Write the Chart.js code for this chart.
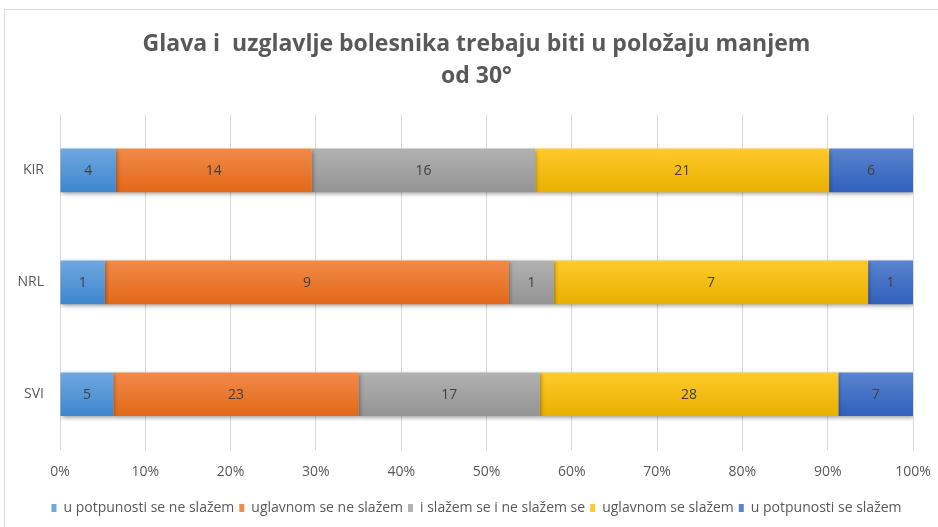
<!DOCTYPE html>
<html>
<head>
<meta charset="utf-8">
<script src="https://cdn.jsdelivr.net/npm/chart.js@4.4.1/dist/chart.umd.min.js"></script>
<style>
  html, body { margin: 0; padding: 0; background: #fff; }
  #wrap { position: relative; width: 938px; height: 527px; }
  #frame { position: absolute; left: 4px; top: 9px; width: 960px; height: 540px; border: 1px solid #d9d9d9; box-sizing: border-box; }
  canvas { position: absolute; left: 0; top: 0; }
</style>
</head>
<body>
<div id="wrap">
  <div id="frame"></div>
  <canvas id="chart" width="938" height="527"></canvas>
</div>
<script>
// Categories and answer counts
const groups = ["KIR", "NRL", "SVI"];
const answers = [
  "u potpunosti se ne slažem",
  "uglavnom se ne slažem",
  "i slažem se i ne slažem se",
  "uglavnom se slažem",
  "u potpunosti se slažem",
];
const fullyDisagree = [4, 1, 5];
const mostlyDisagree = [14, 9, 23];
const neutral = [16, 1, 17];
const mostlyAgree = [21, 7, 28];
const fullyAgree = [6, 1, 7];
const xTicks = [0, 10, 20, 30, 40, 50, 60, 70, 80, 90, 100];

const counts = [fullyDisagree, mostlyDisagree, neutral, mostlyAgree, fullyAgree];
const colors = [
  ["#6ea8df", "#3f86cf"],
  ["#f28a4a", "#e26818"],
  ["#b2b2b2", "#939393"],
  ["#ffca2c", "#e8b000"],
  ["#5a84cf", "#3060bd"],
];

const totals = groups.map((g, i) => counts.reduce((s, arr) => s + arr[i], 0));

const FONT = "'Open Sans', Calibri, sans-serif";

// vertical gradient per bar, like the Excel fill
function barFill(ci) {
  return function (context) {
    const chart = context.chart;
    const area = chart.chartArea;
    if (!area) return colors[ci][0];
    const y = chart.scales.y.getPixelForValue(context.dataIndex);
    const g = chart.ctx.createLinearGradient(0, y - 22, 0, y + 22);
    g.addColorStop(0, colors[ci][0]);
    g.addColorStop(1, colors[ci][1]);
    return g;
  };
}

const datasets = answers.map((label, ci) => ({
  label: label,
  data: counts[ci].map((v, i) => (v / totals[i]) * 100),
  raw: counts[ci],
  backgroundColor: barFill(ci),
  legendColor: colors[ci][0],
  borderWidth: 0,
  barPercentage: 0.39,
  categoryPercentage: 1,
}));

// soft shadow under the bars
const shadowPlugin = {
  id: "barShadow",
  beforeDatasetsDraw(chart) {
    const ctx = chart.ctx;
    ctx.save();
    ctx.shadowColor = "rgba(0,0,0,0.35)";
    ctx.shadowBlur = 4;
    ctx.shadowOffsetX = 1;
    ctx.shadowOffsetY = 2;
  },
  afterDatasetsDraw(chart) {
    chart.ctx.restore();
  },
};

// count labels in the middle of every segment
const labelPlugin = {
  id: "segmentLabels",
  afterDatasetsDraw(chart) {
    const ctx = chart.ctx;
    ctx.save();
    ctx.font = "14px " + FONT;
    ctx.fillStyle = "#404040";
    ctx.textAlign = "center";
    ctx.textBaseline = "middle";
    chart.data.datasets.forEach((ds, di) => {
      const meta = chart.getDatasetMeta(di);
      meta.data.forEach((bar, i) => {
        const p = bar.getCenterPoint();
        ctx.fillText(String(ds.raw[i]), p.x, p.y + 1);
      });
    });
    ctx.restore();
  },
};

new Chart(document.getElementById("chart"), {
  type: "bar",
  data: { labels: groups, datasets: datasets },
  plugins: [shadowPlugin, labelPlugin],
  options: {
    indexAxis: "y",
    responsive: false,
    animation: false,
    layout: { padding: { left: 15, right: 0, top: 0, bottom: 2 } },
    plugins: {
      title: {
        display: true,
        text: ["Glava i  uzglavlje bolesnika trebaju biti u položaju manjem", "od 30°"],
        color: "#595959",
        font: { family: FONT, size: 23, weight: "bold", lineHeight: 1.4 },
        padding: { top: 28, bottom: 22 },
      },
      legend: {
        position: "bottom",
        labels: {
          color: "#595959",
          font: { family: FONT, size: 14 },
          boxWidth: 5,
          boxHeight: 8,
          padding: 5,
          generateLabels(chart) {
            return chart.data.datasets.map((ds, i) => ({
              text: ds.label,
              fillStyle: ds.legendColor,
              strokeStyle: ds.legendColor,
              lineWidth: 0,
              datasetIndex: i,
              fontColor: "#595959",
            }));
          },
        },
      },
      tooltip: { enabled: false },
    },
    scales: {
      x: {
        stacked: true,
        min: 0,
        max: 100,
        afterBuildTicks(scale) {
          scale.ticks = xTicks.map((v) => ({ value: v }));
        },
        afterFit(scale) {
          scale.paddingLeft = 0;
          scale.paddingRight = 25;
          scale.height += 3;
        },
        grid: { color: "#d9d9d9", drawTicks: false },
        border: { display: false },
        ticks: {
          color: "#595959",
          font: { family: FONT, size: 14 },
          padding: 13,
          callback: (v) => v + "%",
        },
      },
      y: {
        stacked: true,
        grid: { display: false, drawTicks: false },
        border: { display: false },
        afterFit(scale) {
          scale.width = 45;
        },
        ticks: {
          color: "#595959",
          font: { family: FONT, size: 14 },
          padding: 16,
        },
      },
    },
  },
});
</script>
</body>
</html>
